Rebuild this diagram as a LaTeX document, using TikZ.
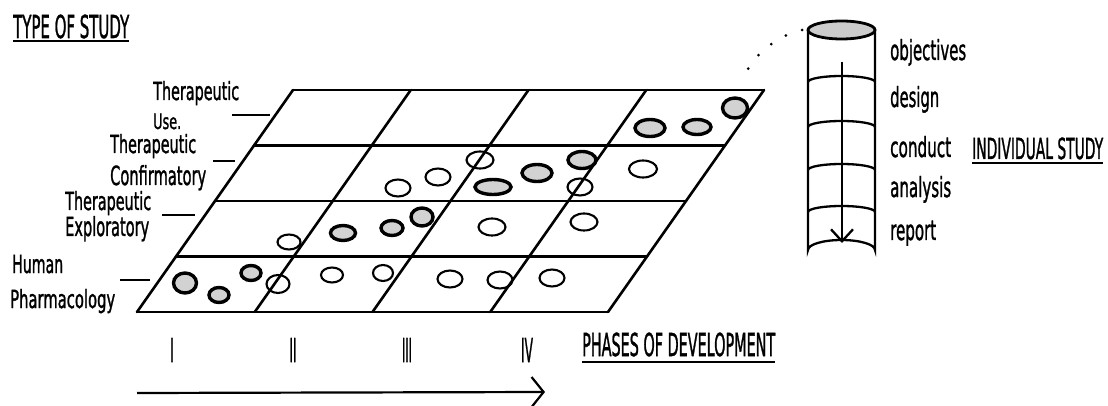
\documentclass[tikz,border=0pt]{standalone}
\usepackage{graphicx}
\usepackage{fontspec}
\setmainfont{DejaVu Sans}
\newfontfamily\medfont[FakeBold=1.6]{DejaVu Sans}
\newcommand{\fitw}[3]{\resizebox{#1pt}{#2pt}{\medfont\vphantom{Tl}#3}}
\usetikzlibrary{calc,arrows.meta}
\begin{document}
\begin{tikzpicture}[x=1pt,y=-1pt,
  gridline/.style={line width=2.6pt,line cap=round},
  lbl/.style={inner sep=0pt,anchor=base west},
  phase/.style={inner sep=0pt,anchor=base},
  tick/.style={line width=2.4pt},
  openov/.style={draw,line width=2.1pt},
  fullov/.style={draw,line width=3.4pt,fill=gray!35},
  cylline/.style={line width=2.3pt},
  uline/.style={line width=1.4pt}]
\useasboundingbox (0,0) rectangle (1108,406);

% grid corners
\coordinate (BL) at (137,312);
\coordinate (BR) at (608,312);
\coordinate (TL) at (293,90);
\coordinate (TR) at (764,90);
% rows
\foreach \j in {0,1,2,3,4}{
  \draw[gridline] ($(BL)+(39*\j,-55.5*\j)$) coordinate (rl\j) -- ($(BR)+(39*\j,-55.5*\j)$) coordinate (rr\j);
}
% columns
\foreach \i in {0,1,2,3,4}{
  \draw[gridline] ($(BL)+(117.75*\i,0)$) coordinate (cb\i) -- ($(TL)+(117.75*\i,0)$) coordinate (ct\i);
}

% ellipses: open
\foreach \x/\y/\a/\b in {278/284/11.5/9, 332/275/11/7.5, 383/273/10/8, 450/279/12.5/8.5, 500/280/12.5/8.5, 552/278/12.5/8.5,
  289/242/11.5/7.5, 492/227/13.5/8.5, 584/222/13.5/8.5,
  398/188/12.5/8.5, 438/177/12.5/8.5, 480/160/13.5/8.5, 580/187/12.5/8.5, 643/169/14/8.5}{
  \draw[openov] (\x,\y) ellipse [x radius=\a, y radius=\b];
}
% ellipses: filled
\foreach \x/\y/\a/\b in {185/283/11.5/10, 219/295/10/7.5, 251/273/10/7.5,
  343/233/12.5/7.5, 392/228/11/7.5, 422/217/11/9,
  493/187/18/7.5, 537/173/15/8.5, 582/160/14/8.5,
  650/128/15/8.5, 697/127/14/7.5, 735/108/12.5/10}{
  \draw[fullov] (\x,\y) ellipse [x radius=\a, y radius=\b];
}

% left labels
\node[lbl] (tos) at (13,38) {\fitw{116}{24}{TYPE OF STUDY}};
\draw[uline] ($(tos.base west)+(0,3)$) -- ($(tos.base east)+(0,3)$);

\node[lbl] (tu1) at (153,100) {\fitw{86}{19}{Therapeutic}};
\node[lbl] (tu2) at (153,129) {\fitw{28}{16}{Use.}};
\coordinate (tua) at (232,115); \coordinate (tub) at (270,115);
\draw[tick] (tua) -- (tub);

\node[lbl] (tc1) at (110,153) {\fitw{86}{19}{Therapeutic}};
\node[lbl] (tc2) at (110,185) {\fitw{96}{20}{Confirmatory}};
\coordinate (tca) at (213,161); \coordinate (tcb) at (235,161);
\draw[tick] (tca) -- (tcb);

\node[lbl] (te1) at (65,210) {\fitw{86}{19}{Therapeutic}};
\node[lbl] (te2) at (65,236) {\fitw{84}{20}{Exploratory}};
\coordinate (tea) at (162,215); \coordinate (teb) at (195,215);
\draw[tick] (tea) -- (teb);

\node[lbl] (hp1) at (12,273) {\fitw{51}{19}{Human}};
\node[lbl] (hp2) at (10,308) {\fitw{105}{19}{Pharmacology}};
\coordinate (hpa) at (120,280); \coordinate (hpb) at (150,280);
\draw[tick] (hpa) -- (hpb);

% phases
\node[phase] (p1) at (172,362) {\fitw{3}{25}{I}};
\node[phase] (p2) at (293,362) {\fitw{7}{25}{II}};
\node[phase] (p3) at (407,362) {\fitw{10}{25}{III}};
\node[phase] (p4) at (527,362) {\fitw{12}{25}{IV}};
\node[lbl] (pod) at (582,356) {\fitw{193}{24}{PHASES OF DEVELOPMENT}};
\draw[uline] ($(pod.base west)+(0,6)$) -- ($(pod.base east)+(0,6)$);

\coordinate (ara) at (137,393); \coordinate (arb) at (545,392);
\draw[line width=2.2pt,-{Straight Barb[length=12pt,width=30pt,line width=2.2pt]}] (ara) -- (arb);

% cylinder
\coordinate (cyl) at (841.5,30);
\draw[cylline] (808,30) -- (808,250) arc[start angle=180,end angle=360,x radius=33.5,y radius=10] -- (875,30);
\foreach \yy in {82,127,170,212}{
  \draw[cylline] (808,\yy) arc[start angle=180,end angle=360,x radius=33.5,y radius=6];
}
\draw[line width=2.8pt,fill=gray!40] (cyl) ellipse [x radius=33.5, y radius=9];
\coordinate (caa) at (842,62); \coordinate (cab) at (842,243);
\draw[cylline,-{Straight Barb[length=12pt,width=22pt,line width=2.3pt]}] (caa) -- (cab);

% dotted link
\coordinate (da) at (802,30);
\coordinate (db) at (743,80);
\draw[line width=3pt,line cap=round,dash pattern=on 0pt off 17pt] (da) .. controls (775,36) and (750,58) .. (db);

% right labels
\node[lbl] (s1) at (890,60) {\fitw{76}{21}{objectives}};
\node[lbl] (s2) at (890,107) {\fitw{49}{21}{design}};
\node[lbl] (s3) at (890,157) {\fitw{61}{21}{conduct}};
\node[lbl] (s4) at (890,197) {\fitw{61}{21}{analysis}};
\node[lbl] (s5) at (890,240) {\fitw{46}{21}{report}};
\node[lbl] (ind) at (972,159) {\fitw{131}{22}{INDIVIDUAL STUDY}};
\draw[uline] ($(ind.base west)+(0,4)$) -- ($(ind.base east)+(0,4)$);
\end{tikzpicture}
\end{document}
